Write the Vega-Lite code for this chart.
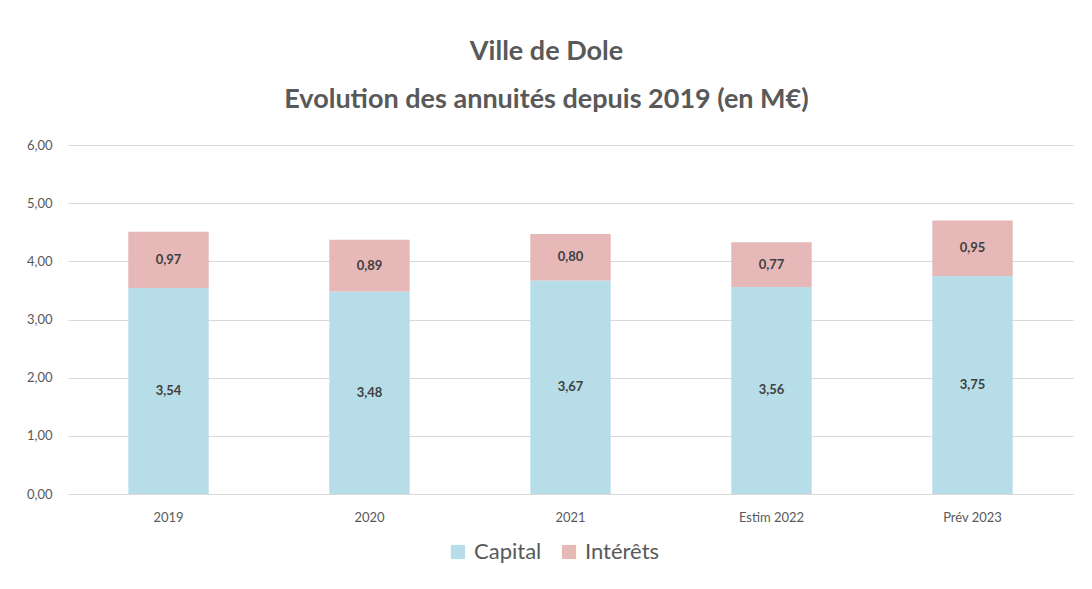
{
  "$schema": "https://vega.github.io/schema/vega-lite/v6.json",
  "width": 1005,
  "height": 349,
  "autosize": {"type": "none"},
  "padding": {"left": 68, "top": 145, "right": 19, "bottom": 95},
  "background": "white",
  "config": {
    "locale": {"number": {"decimal": ",", "thousands": " ", "grouping": [3], "currency": ["", " €"]}},
    "font": "Lato",
    "view": {"stroke": null}
  },
  "title": {
    "text": ["Ville de Dole", "Evolution des annuités depuis 2019 (en M€)"],
    "fontSize": 27,
    "fontWeight": "bold",
    "color": "#595959",
    "lineHeight": 48,
    "anchor": "middle",
    "dx": -24,
    "offset": 25,
    "font": "Lato"
  },
  "data": {
    "values": [
      {"annee": "2019", "type": "Capital", "ordre": 1, "valeur": 3.54},
      {"annee": "2019", "type": "Intérêts", "ordre": 2, "valeur": 0.97},
      {"annee": "2020", "type": "Capital", "ordre": 1, "valeur": 3.48},
      {"annee": "2020", "type": "Intérêts", "ordre": 2, "valeur": 0.89},
      {"annee": "2021", "type": "Capital", "ordre": 1, "valeur": 3.67},
      {"annee": "2021", "type": "Intérêts", "ordre": 2, "valeur": 0.80},
      {"annee": "Estim 2022", "type": "Capital", "ordre": 1, "valeur": 3.56},
      {"annee": "Estim 2022", "type": "Intérêts", "ordre": 2, "valeur": 0.77},
      {"annee": "Prév 2023", "type": "Capital", "ordre": 1, "valeur": 3.75},
      {"annee": "Prév 2023", "type": "Intérêts", "ordre": 2, "valeur": 0.95}
    ]
  },
  "transform": [
    {"stack": "valeur", "groupby": ["annee"], "sort": [{"field": "ordre", "order": "ascending"}], "as": ["v0", "v1"]},
    {"calculate": "(datum.v0 + datum.v1) / 2", "as": "vmid"}
  ],
  "encoding": {
    "x": {
      "field": "annee",
      "type": "nominal",
      "sort": null,
      "title": null,
      "scale": {"paddingInner": 0.6, "paddingOuter": 0.3},
      "axis": {
        "labelAngle": 0,
        "labelFontSize": 13,
        "labelColor": "#595959",
        "labelPadding": 17,
        "ticks": false,
        "domainColor": "#D9D9D9",
        "labelFont": "Lato"
      }
    }
  },
  "layer": [
    {
      "mark": {"type": "bar"},
      "encoding": {
        "y": {
          "field": "v0",
          "type": "quantitative",
          "title": null,
          "scale": {"domain": [0, 6]},
          "axis": {
            "values": [0, 1, 2, 3, 4, 5, 6],
            "format": ".2f",
            "labelFontSize": 13,
            "labelColor": "#595959",
            "labelPadding": 16,
            "ticks": false,
            "domain": false,
            "gridColor": "#D9D9D9",
            "labelFont": "Lato"
          }
        },
        "y2": {"field": "v1"},
        "color": {
          "field": "type",
          "type": "nominal",
          "scale": {"domain": ["Capital", "Intérêts"], "range": ["#B7DDE8", "#E6B8B7"]},
          "legend": {
            "title": null,
            "orient": "none",
            "direction": "horizontal",
            "legendX": 379,
            "legendY": 396,
            "symbolType": "square",
            "symbolSize": 200,
            "symbolStrokeWidth": 0,
            "labelFontSize": 22,
            "labelColor": "#595959",
            "labelFont": "Lato",
            "columnPadding": 16,
            "labelOffset": 5
          }
        }
      }
    },
    {
      "mark": {"type": "text", "fontSize": 13, "fontWeight": "bold", "color": "#404040", "font": "Lato"},
      "encoding": {
        "y": {"field": "vmid", "type": "quantitative"},
        "text": {"field": "valeur", "type": "quantitative", "format": ".2f"}
      }
    }
  ]
}
